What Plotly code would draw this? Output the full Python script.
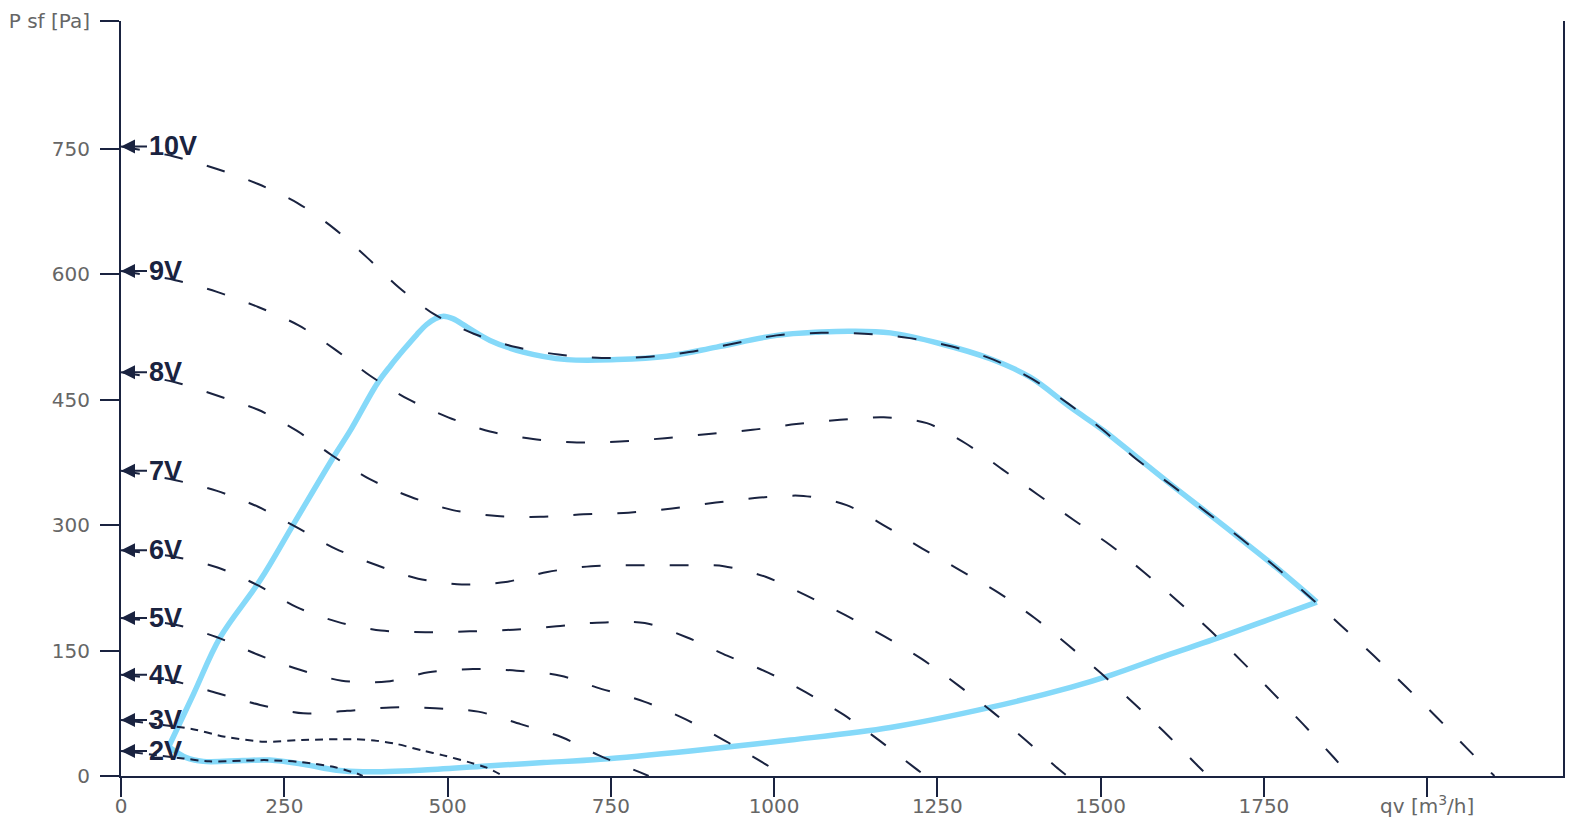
import plotly.graph_objects as go

NAVY = "#1a2340"
BLUE = "#85d9f9"
GREY = "#666666"

X_MAX = 2208
Y_MAX = 903

x_tick_vals = [0, 250, 500, 750, 1000, 1250, 1500, 1750, 2000]
x_tick_text = ["0", "250", "500", "750", "1000", "1250", "1500", "1750", "qv [m<sup>3</sup>/h]"]
y_tick_vals = [0, 150, 300, 450, 600, 750, Y_MAX]
y_tick_text = ["0", "150", "300", "450", "600", "750", "P sf [Pa]"]

# Voltage curves (qv, Psf)
v10_x = [0, 81, 147, 210, 271, 326, 377, 426, 480, 540, 604, 670, 736, 803, 870, 937, 1004, 1072, 1138, 1205, 1271, 1336, 1395, 1451, 1505, 1553, 1610, 1663, 1715, 1768, 1819, 1868, 1918, 1967, 2015, 2061, 2103]
v10_y = [753, 741, 726, 708, 685, 655, 620, 584, 552, 529, 513, 504, 500, 501, 507, 517, 527, 530, 529, 524, 514, 498, 475, 445, 413, 380, 347, 315, 284, 250, 215, 180, 144, 107, 70, 33, 0]

v9_x = [0, 83, 147, 210, 272, 328, 381, 439, 501, 565, 631, 698, 764, 833, 900, 967, 1034, 1101, 1168, 1234, 1293, 1349, 1403, 1461, 1515, 1566, 1617, 1668, 1715, 1763, 1810, 1856, 1882]
v9_y = [604, 593, 579, 561, 539, 510, 479, 451, 429, 412, 403, 399, 400, 404, 409, 414, 421, 426, 429, 422, 398, 367, 337, 305, 276, 244, 210, 174, 138, 100, 62, 23, 0]

v8_x = [0, 83, 147, 210, 269, 324, 381, 443, 508, 576, 642, 708, 777, 844, 911, 978, 1045, 1111, 1170, 1227, 1285, 1344, 1399, 1451, 1502, 1552, 1601, 1649, 1665]
v8_y = [483, 471, 455, 438, 413, 383, 355, 334, 318, 311, 310, 313, 315, 320, 327, 333, 335, 324, 299, 272, 246, 219, 189, 156, 122, 86, 50, 12, 0]

v7_x = [0, 82, 147, 210, 270, 328, 392, 455, 522, 589, 653, 720, 788, 856, 923, 988, 1049, 1110, 1169, 1226, 1281, 1334, 1385, 1436, 1449]
v7_y = [365, 354, 341, 322, 297, 272, 252, 236, 229, 232, 244, 251, 252, 252, 251, 238, 216, 192, 167, 140, 109, 77, 43, 8, 0]

v6_x = [0, 83, 149, 210, 269, 333, 398, 466, 534, 601, 667, 718, 802, 866, 928, 990, 1049, 1107, 1162, 1215, 1232]
v6_y = [270, 262, 249, 228, 202, 184, 174, 172, 173, 175, 179, 183, 183, 166, 144, 124, 100, 73, 42, 10, 0]

v5_x = [0, 83, 147, 210, 274, 338, 407, 471, 539, 606, 673, 728, 801, 864, 923, 981, 1015]
v5_y = [189, 181, 166, 145, 127, 114, 113, 124, 128, 126, 120, 106, 89, 68, 43, 17, 0]

v4_x = [0, 83, 148, 213, 279, 346, 413, 481, 547, 612, 676, 731, 796, 808]
v4_y = [121, 113, 99, 85, 75, 78, 82, 81, 77, 62, 46, 25, 4, 0]

v3_x = [0, 110, 159, 219, 277, 358, 392, 418, 464, 492, 535, 560, 585]
v3_y = [67, 56, 47, 41, 43, 44, 42, 39, 30, 25, 16, 10, 0]

v2_x = [0, 95, 135, 185, 219, 246, 270, 298, 325, 347, 361, 370]
v2_y = [30, 21, 17.5, 18.3, 19, 18.3, 17, 14.3, 11, 6.3, 3, 0]

# Working area envelope (upper and lower boundary)
env_upper_x = [73, 111, 152, 213, 264, 325, 351, 392, 413, 433, 453, 468, 481, 494, 508, 530, 565, 616, 683, 759, 836, 912, 1004, 1072, 1117, 1178, 1255, 1331, 1392, 1454, 1505, 1556, 1607, 1663, 1715, 1768, 1831]
env_upper_y = [35, 98, 166, 234, 301, 381, 413, 469, 491, 510, 528, 540, 547, 550, 547, 537, 521, 507, 498, 498, 502, 513, 527, 531, 532, 530, 517, 499, 477, 441, 413, 381, 349, 315, 283, 250, 208]
env_lower_x = [1831, 1750, 1672, 1600, 1517, 1454, 1331, 1178, 1025, 872, 734, 647, 560, 458, 370, 330, 279, 228, 187, 126, 100, 73]
env_lower_y = [208, 185, 163, 144, 121, 106, 82, 58, 43, 30, 20, 16, 12, 7, 5, 7, 14, 19, 18.5, 17.5, 22, 35]

labels = ["2V", "3V", "4V", "5V", "6V", "7V", "8V", "9V", "10V"]
curves_x = [v2_x, v3_x, v4_x, v5_x, v6_x, v7_x, v8_x, v9_x, v10_x]
curves_y = [v2_y, v3_y, v4_y, v5_y, v6_y, v7_y, v8_y, v9_y, v10_y]

fig = go.Figure()

for ex, ey in [(env_upper_x, env_upper_y), (env_lower_x, env_lower_y)]:
    fig.add_trace(go.Scatter(x=ex, y=ey, mode="lines",
                             line=dict(color=BLUE, width=5.5, shape="spline", smoothing=1.0),
                             hoverinfo="skip", showlegend=False))

for lab, cx, cy in zip(labels, curves_x, curves_y):
    dash = "8px,6px" if lab in ("2V", "3V") else "19px,25px"
    fig.add_trace(go.Scatter(x=cx, y=cy, mode="lines", name=lab,
                             line=dict(color=NAVY, width=2, dash=dash, shape="spline", smoothing=0.8),
                             showlegend=False))
    fig.add_annotation(x=0, y=cy[0], xref="x", yref="y",
                       text="<b>" + lab + "</b>", showarrow=True,
                       ax=26, ay=0, xanchor="left", yanchor="middle",
                       arrowhead=2, arrowsize=1.4, arrowwidth=2, arrowcolor=NAVY,
                       font=dict(family="Liberation Sans, Arial, sans-serif", size=27, color=NAVY))

# The page body has an 8px margin, so the figure is sized to fit inside it
fig.update_layout(
    width=1568, height=816,
    margin=dict(l=113, r=13, t=13, b=48, autoexpand=False),
    paper_bgcolor="white", plot_bgcolor="white",
    showlegend=False,
)
fig.update_xaxes(range=[0, X_MAX], tickvals=x_tick_vals, ticktext=x_tick_text,
                 showgrid=False, zeroline=False, showline=True, linecolor=NAVY, linewidth=2,
                 ticks="outside", ticklen=19, tickwidth=2, tickcolor=NAVY, automargin=False,
                 ticklabelstandoff=-8,
                 tickfont=dict(family="DejaVu Sans", size=20, color=GREY))
fig.update_yaxes(range=[0, Y_MAX], tickvals=y_tick_vals, ticktext=y_tick_text,
                 showgrid=False, zeroline=False, showline=True, linecolor=NAVY, linewidth=2,
                 mirror=True, automargin=False, ticklabelstandoff=6,
                 ticks="outside", ticklen=19, tickwidth=2, tickcolor=NAVY,
                 tickfont=dict(family="DejaVu Sans", size=20, color=GREY))

fig.write_html("out.html")
